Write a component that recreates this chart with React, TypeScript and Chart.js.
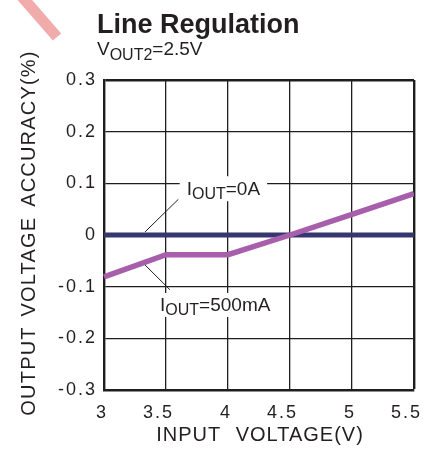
import React, { useEffect, useRef } from 'react';
import { Chart, registerables } from 'chart.js';

Chart.register(...registerables);

// ---- data ----
const inputVoltage = [3, 3.5, 4, 4.5, 5, 5.5];
const accuracyIout0A = [0, 0, 0, 0, 0, 0];
const accuracyIout500mA = [-0.081, -0.038, -0.038, 0, 0.04, 0.08];
const xTickValues = [3, 3.5, 4, 4.5, 5, 5.5];
const xTickLabels = ['3', '3.5', '4', '4.5', '5', '5.5'];
const yTickValues = [-0.3, -0.2, -0.1, 0, 0.1, 0.2, 0.3];
const yTickLabels = ['-0.3', '-0.2', '-0.1', '0', '0.1', '0.2', '0.3'];
const seriesLabels = ['IOUT=0A', 'IOUT=500mA'];
const chartTitle = 'Line Regulation';
const xAxisTitle = 'INPUT VOLTAGE(V)';
const yAxisTitle = 'OUTPUT VOLTAGE ACCURACY(%)';

const FONT = '"Liberation Sans", Arial, Helvetica, sans-serif';
const INK = '#231f20';

type Part = [string, number, number];

function drawRich(ctx: CanvasRenderingContext2D, x: number, y: number, parts: Part[]) {
  let cx = x;
  for (const [t, size, dy] of parts) {
    ctx.font = `${size}px ${FONT}`;
    ctx.fillText(t, cx, y + dy);
    cx += ctx.measureText(t).width;
  }
  return cx - x;
}

function richWidth(ctx: CanvasRenderingContext2D, parts: Part[]) {
  let w = 0;
  for (const [t, size] of parts) {
    ctx.font = `${size}px ${FONT}`;
    w += ctx.measureText(t).width;
  }
  return w;
}

const decorPlugin = {
  id: 'decor',
  beforeDraw(chart: any) {
    (chart.ctx as any).letterSpacing = '2px';
  },
  afterDatasetsDraw(chart: any) {
    const ctx: CanvasRenderingContext2D = chart.ctx;
    const xs = chart.scales.x;
    const ys = chart.scales.y;
    ctx.save();
    (ctx as any).letterSpacing = '0px';
    ctx.fillStyle = INK;
    ctx.strokeStyle = INK;
    ctx.textAlign = 'left';
    ctx.textBaseline = 'alphabetic';

    const labels: { parts: Part[]; tx: number; ty: number; l1: [number, number]; l2: [number, number]; top: number }[] = [
      {
        parts: [['I', 19, 0], ['OUT', 16, 4], ['=0A', 19, 0]],
        tx: 3.667,
        ty: 0.077,
        l1: [3.331, 0.006],
        l2: [3.599, 0.069],
        top: 19,
      },
      {
        parts: [['I', 19, 0], ['OUT', 16, 4], ['=500mA', 19, 0]],
        tx: 3.452,
        ty: -0.147,
        l1: [3.331, -0.058],
        l2: [3.532, -0.106],
        top: 18,
      },
    ];

    for (const lab of labels) {
      const px = xs.getPixelForValue(lab.tx);
      const py = ys.getPixelForValue(lab.ty);
      const w = richWidth(ctx, lab.parts);
      ctx.fillStyle = '#ffffff';
      ctx.fillRect(px - 7, py - lab.top, w + 14, lab.top + 6);
      ctx.fillStyle = INK;
      drawRich(ctx, px, py, lab.parts);
      ctx.beginPath();
      ctx.lineWidth = 1;
      ctx.moveTo(xs.getPixelForValue(lab.l1[0]), ys.getPixelForValue(lab.l1[1]));
      ctx.lineTo(xs.getPixelForValue(lab.l2[0]), ys.getPixelForValue(lab.l2[1]));
      ctx.stroke();
    }
    ctx.restore();
  },
  afterDraw(chart: any) {
    const ctx: CanvasRenderingContext2D = chart.ctx;
    const area = chart.chartArea;
    ctx.save();
    (ctx as any).letterSpacing = '0px';
    ctx.fillStyle = INK;

    // title
    ctx.textAlign = 'left';
    ctx.textBaseline = 'alphabetic';
    ctx.font = `bold 27px ${FONT}`;
    ctx.fillText(chartTitle, 97, 33);

    // subtitle
    drawRich(ctx, 97, 55, [['V', 19, 0], ['OUT2', 16, 5], ['=2.5V', 19, 0]]);

    // x axis title
    (ctx as any).letterSpacing = '1px';
    (ctx as any).wordSpacing = '8px';
    ctx.font = `20px ${FONT}`;
    ctx.textAlign = 'center';
    ctx.textBaseline = 'alphabetic';
    ctx.fillText(xAxisTitle, (area.left + area.right) / 2 + 1, 441);

    // y axis title
    ctx.save();
    ctx.translate(35, 233);
    ctx.rotate(-Math.PI / 2);
    (ctx as any).letterSpacing = '1.2px';
    (ctx as any).wordSpacing = '3px';
    ctx.font = `20px ${FONT}`;
    ctx.textAlign = 'center';
    ctx.textBaseline = 'alphabetic';
    ctx.fillText(yAxisTitle, 0, 0);
    ctx.restore();
    (ctx as any).wordSpacing = '0px';

    // decorative pink stripe (top-left corner)
    ctx.beginPath();
    ctx.strokeStyle = '#f1abab';
    ctx.lineWidth = 11;
    ctx.lineCap = 'butt';
    ctx.moveTo(-3, -32);
    ctx.lineTo(57, 37);
    ctx.stroke();

    ctx.restore();
  },
};

export default function App() {
  const ref = useRef<HTMLCanvasElement>(null);

  useEffect(() => {
    const canvas = ref.current;
    if (!canvas) return;
    const gridWidth = (max: number) => (c: any) => (c.tick && Math.abs(c.tick.value - max) < 1e-9 ? 2.4 : 1.3);
    const chart = new Chart(canvas, {
      type: 'line',
      data: {
        datasets: [
          {
            label: seriesLabels[0],
            data: inputVoltage.map((x, i) => ({ x, y: accuracyIout0A[i] })),
            borderColor: '#363670',
            borderWidth: 5,
            pointRadius: 0,
            tension: 0,
            fill: false,
            order: 2,
            clip: { left: 2, right: 0, top: 0, bottom: 0 },
          },
          {
            label: seriesLabels[1],
            data: inputVoltage.map((x, i) => ({ x, y: accuracyIout500mA[i] })),
            borderColor: '#a75fab',
            borderWidth: 5.5,
            pointRadius: 0,
            tension: 0,
            fill: false,
            order: 1,
            clip: { left: 2, right: 0, top: 0, bottom: 0 },
          },
        ],
      },
      options: {
        animation: false,
        responsive: false,
        maintainAspectRatio: false,
        layout: { padding: { top: 80, right: 30, left: 0, bottom: 0 } },
        plugins: {
          legend: { display: false },
          title: { display: false },
          tooltip: { enabled: false },
        },
        scales: {
          x: {
            type: 'linear',
            min: 3,
            max: 5.5,
            afterBuildTicks: (s: any) => {
              s.ticks = xTickValues.map((v) => ({ value: v }));
            },
            afterFit: (s: any) => {
              s.height = 61;
            },
            ticks: {
              autoSkip: false,
              maxRotation: 0,
              padding: 12,
              labelOffset: -2,
              color: INK,
              font: { family: FONT, size: 18 },
              callback: (v: any) => {
                const i = xTickValues.findIndex((t) => Math.abs(t - Number(v)) < 1e-9);
                if (i < 0) return '';
                const s = xTickLabels[i];
                return s.includes('.') ? s + '\u2002' : s;
              },
            },
            grid: { color: '#1e1e1e', lineWidth: gridWidth(5.5), drawTicks: false },
            border: { display: true, color: '#1e1e1e', width: 2.4 },
          },
          y: {
            type: 'linear',
            min: -0.3,
            max: 0.3,
            afterBuildTicks: (s: any) => {
              s.ticks = yTickValues.map((v) => ({ value: v }));
            },
            afterFit: (s: any) => {
              s.width = 104;
            },
            ticks: {
              autoSkip: false,
              padding: 7,
              color: INK,
              font: { family: FONT, size: 18 },
              callback: (v: any) => {
                const i = yTickValues.findIndex((t) => Math.abs(t - Number(v)) < 1e-9);
                return i >= 0 ? yTickLabels[i] : '';
              },
            },
            grid: { color: '#1e1e1e', lineWidth: gridWidth(0.3), drawTicks: false },
            border: { display: true, color: '#1e1e1e', width: 2.4 },
          },
        },
      },
      plugins: [decorPlugin],
    } as any);
    return () => chart.destroy();
  }, []);

  return (
    <div style={{ position: 'absolute', left: 0, top: 0, width: 444, height: 451, background: '#ffffff' }}>
      <canvas ref={ref} width={444} height={451} style={{ display: 'block', width: 444, height: 451 }} />
    </div>
  );
}
